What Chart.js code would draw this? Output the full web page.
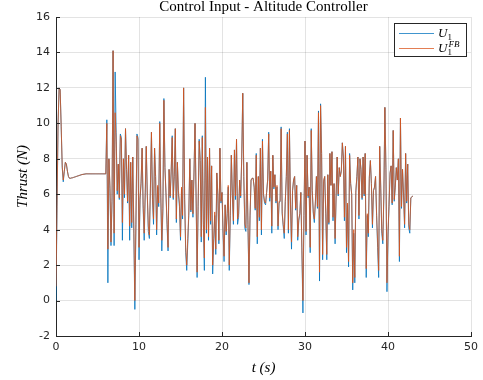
<!DOCTYPE html>
<html>
<head>
<meta charset="utf-8">
<script src="https://cdn.jsdelivr.net/npm/chart.js@4/dist/chart.umd.min.js"></script>
<style>
  html, body { margin: 0; padding: 0; background: #fff; }
  #wrap { width: 483px; height: 380px; }
</style>
</head>
<body>
<div id="wrap"><canvas id="chart" width="483" height="380"></canvas></div>
<script>
// logged thrust of the altitude controller, one value every sampleTime seconds from t = 0
const sampleTime = 0.125;

const u1 = [
  0.0, 5.3, 10.0, 12.0, 11.9, 9.8, 7.5, 6.7,
  7.3, 7.8, 7.7, 7.3, 7.0, 6.9, 6.9, 6.92,
  6.93, 6.95, 6.97, 6.99, 7.01, 7.03, 7.05, 7.07,
  7.09, 7.11, 7.12, 7.13, 7.14, 7.15, 7.15, 7.15,
  7.15, 7.15, 7.15, 7.15, 7.15, 7.15, 7.15, 7.15,
  7.15, 7.15, 7.15, 7.15, 7.15, 7.15, 7.15, 7.15,
  7.15, 10.2, 1.0, 8.0, 6.3, 3.1, 5.6, 14.1,
  3.1, 12.9, 9.5, 6.0, 7.7, 5.7, 9.4, 9.2,
  3.4, 8.0, 5.8, 9.7, 7.4, 5.5, 8.2, 3.4,
  7.8, 4.1, 8.1, 3.8, -0.5, 4.0, 9.4, 9.2,
  2.3, 5.7, 6.6, 8.6, 5.2, 3.4, 6.0, 8.7,
  5.9, 3.9, 3.5, 6.3, 9.5, 5.7, 4.3, 8.6,
  7.0, 3.7, 6.4, 5.3, 10.1, 5.8, 2.8, 5.0,
  11.4, 7.5, 6.0, 4.3, 2.8, 7.4, 5.8, 7.2,
  9.3, 5.7, 7.0, 9.7, 4.4, 7.8, 6.0, 5.3,
  3.4, 6.3, 4.6, 12.0, 5.7, 2.7, 1.7, 3.2,
  4.8, 8.0, 5.0, 6.8, 4.7, 7.2, 10.0, 5.9,
  1.3, 5.3, 9.1, 7.9, 3.3, 9.3, 4.3, 1.7,
  12.6, 3.8, 8.1, 3.4, 8.6, 4.3, 7.6, 1.5,
  3.3, 4.8, 2.6, 7.2, 5.9, 3.2, 8.6, 5.5,
  6.1, 3.8, 2.2, 5.4, 3.7, 4.9, 6.4, 1.7,
  4.8, 8.2, 5.9, 4.3, 8.5, 5.7, 9.1, 4.3,
  4.7, 6.8, 5.8, 8.0, 11.7, 7.0, 4.1, 3.9,
  7.8, 4.3, 0.9, 4.6, 6.8, 6.9, 6.9, 6.4,
  5.1, 8.3, 3.2, 7.0, 4.5, 8.6, 3.7, 9.1,
  6.0, 5.5, 5.4, 6.1, 6.8, 9.5, 5.6, 7.3,
  3.8, 8.2, 6.3, 7.1, 5.5, 6.4, 4.0, 5.5,
  5.6, 9.8, 4.9, 4.2, 3.5, 5.6, 7.0, 9.5,
  3.8, 9.7, 5.4, 2.9, 6.2, 6.8, 7.0, 5.1,
  6.5, 3.4, 4.5, 4.9, 6.1, 2.8, -0.7, 4.8,
  9.0, 3.7, 8.2, 5.8, 6.4, 2.7, 9.7, 6.2,
  4.9, 4.4, 5.5, 7.0, 5.2, 10.7, 1.1, 11.1,
  8.3, 2.3, 6.7, 7.0, 4.9, 2.3, 7.1, 4.3,
  8.3, 6.5, 8.4, 4.5, 6.6, 3.2, 5.9, 8.1,
  5.9, 7.5, 7.0, 7.3, 8.9, 8.1, 4.5, 8.7,
  2.7, 5.4, 1.9, 8.3, 6.6, 6.0, 0.6, 3.8,
  1.0, 6.1, 7.0, 8.1, 4.6, 8.0, 7.4, 5.7,
  8.1, 5.9, 8.3, 1.3, 4.8, 3.6, 6.9, 7.9,
  6.6, 4.1, 6.2, 6.4, 7.0, 4.8, 3.0, 1.3,
  8.7, 6.3, 3.8, 3.2, 5.9, 10.9, 7.4, 0.5,
  3.7, 5.3, 7.2, 7.6, 5.4, 9.6, 5.6, 6.4,
  7.5, 6.8, 8.0, 2.2, 10.3, 5.2, 7.4, 5.9,
  4.1, 8.3, 5.5, 7.7, 4.1, 3.8, 5.8, 5.85,
  5.9
];

const u1fb = [
  0.8, 5.5, 10.0, 12.0, 11.9, 9.8, 7.6, 6.8,
  7.3, 7.8, 7.7, 7.3, 7.0, 6.9, 6.9, 6.92,
  6.93, 6.95, 6.97, 6.99, 7.01, 7.03, 7.05, 7.07,
  7.09, 7.11, 7.12, 7.13, 7.14, 7.15, 7.15, 7.15,
  7.15, 7.15, 7.15, 7.15, 7.15, 7.15, 7.15, 7.15,
  7.15, 7.15, 7.15, 7.15, 7.15, 7.15, 7.15, 7.15,
  7.15, 10.0, 2.9, 8.0, 6.5, 3.3, 5.8, 14.1,
  3.8, 10.6, 9.0, 6.2, 7.7, 5.8, 9.3, 9.1,
  4.4, 8.0, 6.0, 9.7, 7.4, 5.6, 8.2, 4.2,
  7.8, 4.4, 8.1, 4.2, 0.0, 4.3, 9.3, 9.1,
  3.0, 5.8, 6.7, 8.6, 5.4, 3.8, 6.1, 8.7,
  6.0, 4.2, 3.7, 6.4, 9.5, 5.8, 4.6, 8.6,
  7.0, 4.0, 6.5, 5.5, 10.0, 6.0, 3.4, 5.2,
  11.3, 7.5, 6.1, 4.5, 3.0, 7.4, 5.9, 7.3,
  9.2, 5.8, 7.1, 9.7, 4.6, 7.8, 6.2, 5.5,
  3.6, 6.4, 4.8, 12.0, 5.8, 3.0, 2.0, 3.5,
  5.0, 8.0, 5.1, 6.8, 4.9, 7.2, 10.0, 6.0,
  1.6, 5.5, 9.0, 7.9, 3.6, 9.2, 4.5, 2.4,
  10.9, 4.0, 8.1, 3.6, 8.6, 4.5, 7.6, 2.0,
  3.5, 5.0, 2.9, 7.2, 6.0, 3.4, 8.6, 5.6,
  6.1, 4.0, 2.5, 5.4, 3.9, 4.9, 6.5, 2.0,
  5.0, 8.2, 6.0, 4.5, 8.5, 5.9, 9.1, 4.6,
  4.9, 6.8, 5.9, 8.0, 11.7, 7.0, 4.3, 4.1,
  7.8, 4.5, 1.0, 4.8, 6.8, 6.9, 6.9, 6.4,
  5.2, 8.2, 3.6, 7.0, 4.7, 8.6, 4.0, 9.0,
  6.0, 5.6, 5.5, 6.1, 6.8, 9.4, 5.8, 7.3,
  4.2, 8.2, 6.4, 7.1, 5.6, 6.5, 4.2, 5.6,
  5.6, 9.7, 5.0, 4.3, 3.8, 5.6, 7.0, 9.4,
  4.0, 9.6, 5.5, 3.3, 6.2, 6.8, 7.0, 5.2,
  6.5, 3.6, 4.6, 4.9, 6.1, 3.0, 0.0, 5.0,
  9.0, 3.9, 8.2, 5.9, 6.4, 3.0, 9.6, 6.2,
  5.0, 4.6, 5.6, 7.0, 5.3, 10.6, 1.6, 11.0,
  8.3, 2.6, 6.8, 7.0, 5.0, 2.6, 7.1, 4.4,
  8.3, 6.5, 8.4, 4.7, 6.6, 3.5, 6.0, 8.1,
  6.0, 7.5, 7.0, 7.3, 8.9, 8.1, 4.7, 8.7,
  3.0, 5.5, 2.2, 8.2, 6.6, 6.0, 1.0, 4.0,
  1.3, 6.2, 7.0, 8.1, 4.8, 8.0, 7.4, 5.8,
  8.1, 6.0, 8.3, 1.8, 4.9, 3.8, 7.0, 7.9,
  6.6, 4.3, 6.2, 6.4, 7.0, 4.9, 3.3, 1.7,
  8.7, 6.4, 4.0, 3.4, 6.0, 10.9, 7.5, 1.0,
  3.9, 5.4, 7.2, 7.6, 5.5, 9.6, 5.7, 6.4,
  7.5, 6.8, 8.0, 2.5, 10.3, 5.3, 7.4, 6.0,
  4.3, 8.3, 5.6, 7.7, 4.3, 4.0, 5.8, 5.85,
  5.9
];

const xTicks = [0, 10, 20, 30, 40, 50];
const yTicks = [-2, 0, 2, 4, 6, 8, 10, 12, 14, 16];

const blue = '#0072BD';
const orange = '#D95319';
const axisGray = '#262626';

function toPoints(values) {
  return values.map((v, i) => ({ x: i * sampleTime, y: v }));
}

// MATLAB puts tick marks inside the axes
const innerTicks = {
  id: 'innerTicks',
  afterDatasetsDraw(chart) {
    const { ctx, chartArea, scales } = chart;
    ctx.save();
    ctx.strokeStyle = axisGray;
    ctx.lineWidth = 1;
    ctx.beginPath();
    xTicks.forEach(v => {
      const px = Math.round(scales.x.getPixelForValue(v)) + 0.5;
      ctx.moveTo(px, chartArea.bottom);
      ctx.lineTo(px, chartArea.bottom - 4);
    });
    yTicks.forEach(v => {
      const py = Math.round(scales.y.getPixelForValue(v)) + 0.5;
      ctx.moveTo(chartArea.left, py);
      ctx.lineTo(chartArea.left + 4, py);
    });
    ctx.stroke();
    ctx.restore();
  }
};

// legend box with U_1 and U_1^FB
const mathLegend = {
  id: 'mathLegend',
  afterDraw(chart) {
    const { ctx, chartArea } = chart;
    const w = 72, h = 33;
    const x0 = chartArea.right - 5 - w;
    const y0 = chartArea.top + 6;
    ctx.save();
    ctx.fillStyle = '#fff';
    ctx.fillRect(x0, y0, w, h);
    ctx.strokeStyle = axisGray;
    ctx.lineWidth = 1;
    ctx.strokeRect(Math.round(x0) + 0.5, Math.round(y0) + 0.5, w, h);
    const rows = [
      { color: blue, sup: '' },
      { color: orange, sup: 'FB' }
    ];
    rows.forEach((r, i) => {
      const y = y0 + 10 + i * 15;
      ctx.strokeStyle = r.color;
      ctx.globalAlpha = 0.75;
      ctx.beginPath();
      ctx.moveTo(x0 + 5, Math.round(y) + 0.5);
      ctx.lineTo(x0 + 40, Math.round(y) + 0.5);
      ctx.stroke();
      ctx.globalAlpha = 1;
      ctx.fillStyle = '#000';
      ctx.textBaseline = 'alphabetic';
      ctx.font = 'italic 13px "Liberation Serif"';
      const tx = x0 + 44;
      ctx.fillText('U', tx, y + 4);
      const uw = ctx.measureText('U').width;
      ctx.font = '9px "Liberation Serif"';
      ctx.fillText('1', tx + uw, y + 7);
      if (r.sup) {
        ctx.font = 'italic 9px "Liberation Serif"';
        ctx.fillText(r.sup, tx + uw + 1, y - 1);
      }
    });
    ctx.restore();
  }
};

new Chart(document.getElementById('chart'), {
  type: 'line',
  data: {
    datasets: [
      { label: 'U1', data: toPoints(u1), borderColor: blue, borderWidth: 0.8, pointRadius: 0, tension: 0, order: 1 },
      { label: 'U1 FB', data: toPoints(u1fb), borderColor: orange, borderWidth: 0.8, pointRadius: 0, tension: 0, order: 0 }
    ]
  },
  options: {
    responsive: false,
    animation: false,
    layout: { padding: { left: 0, right: 9, top: 0, bottom: 0 } },
    plugins: {
      legend: { display: false },
      tooltip: { enabled: false },
      title: {
        display: true,
        text: 'Control Input - Altitude Controller',
        color: '#000',
        fullSize: false,
        font: { family: '"Liberation Serif"', size: 15, weight: 'normal', lineHeight: 1 },
        padding: { top: 0, bottom: 2 }
      }
    },
    scales: {
      x: {
        type: 'linear',
        min: 0,
        max: 50,
        afterBuildTicks: s => { s.ticks = xTicks.map(v => ({ value: v })); },
        afterFit: s => { s.height = 44; },
        grid: { color: 'rgba(38,38,38,0.13)', drawTicks: false },
        border: { display: true, color: axisGray, width: 1 },
        ticks: { color: axisGray, padding: 5, font: { family: '"DejaVu Sans"', size: 11 }, maxRotation: 0 },
        title: {
          display: true,
          text: 't (s)',
          color: '#000',
          font: { family: '"Liberation Serif"', size: 15, style: 'italic' },
          padding: { top: 0, bottom: 3 }
        }
      },
      y: {
        min: -2,
        max: 16,
        afterBuildTicks: s => { s.ticks = yTicks.map(v => ({ value: v })); },
        afterFit: s => { s.width = 56; },
        grid: { color: 'rgba(38,38,38,0.13)', drawTicks: false },
        border: { display: true, color: axisGray, width: 1 },
        ticks: { color: axisGray, padding: 6, font: { family: '"DejaVu Sans"', size: 11 } },
        title: {
          display: true,
          text: 'Thrust (N)',
          color: '#000',
          font: { family: '"Liberation Serif"', size: 15, style: 'italic' },
          padding: { top: 14, bottom: 0 }
        }
      }
    }
  },
  plugins: [innerTicks, mathLegend]
});
</script>
</body>
</html>
